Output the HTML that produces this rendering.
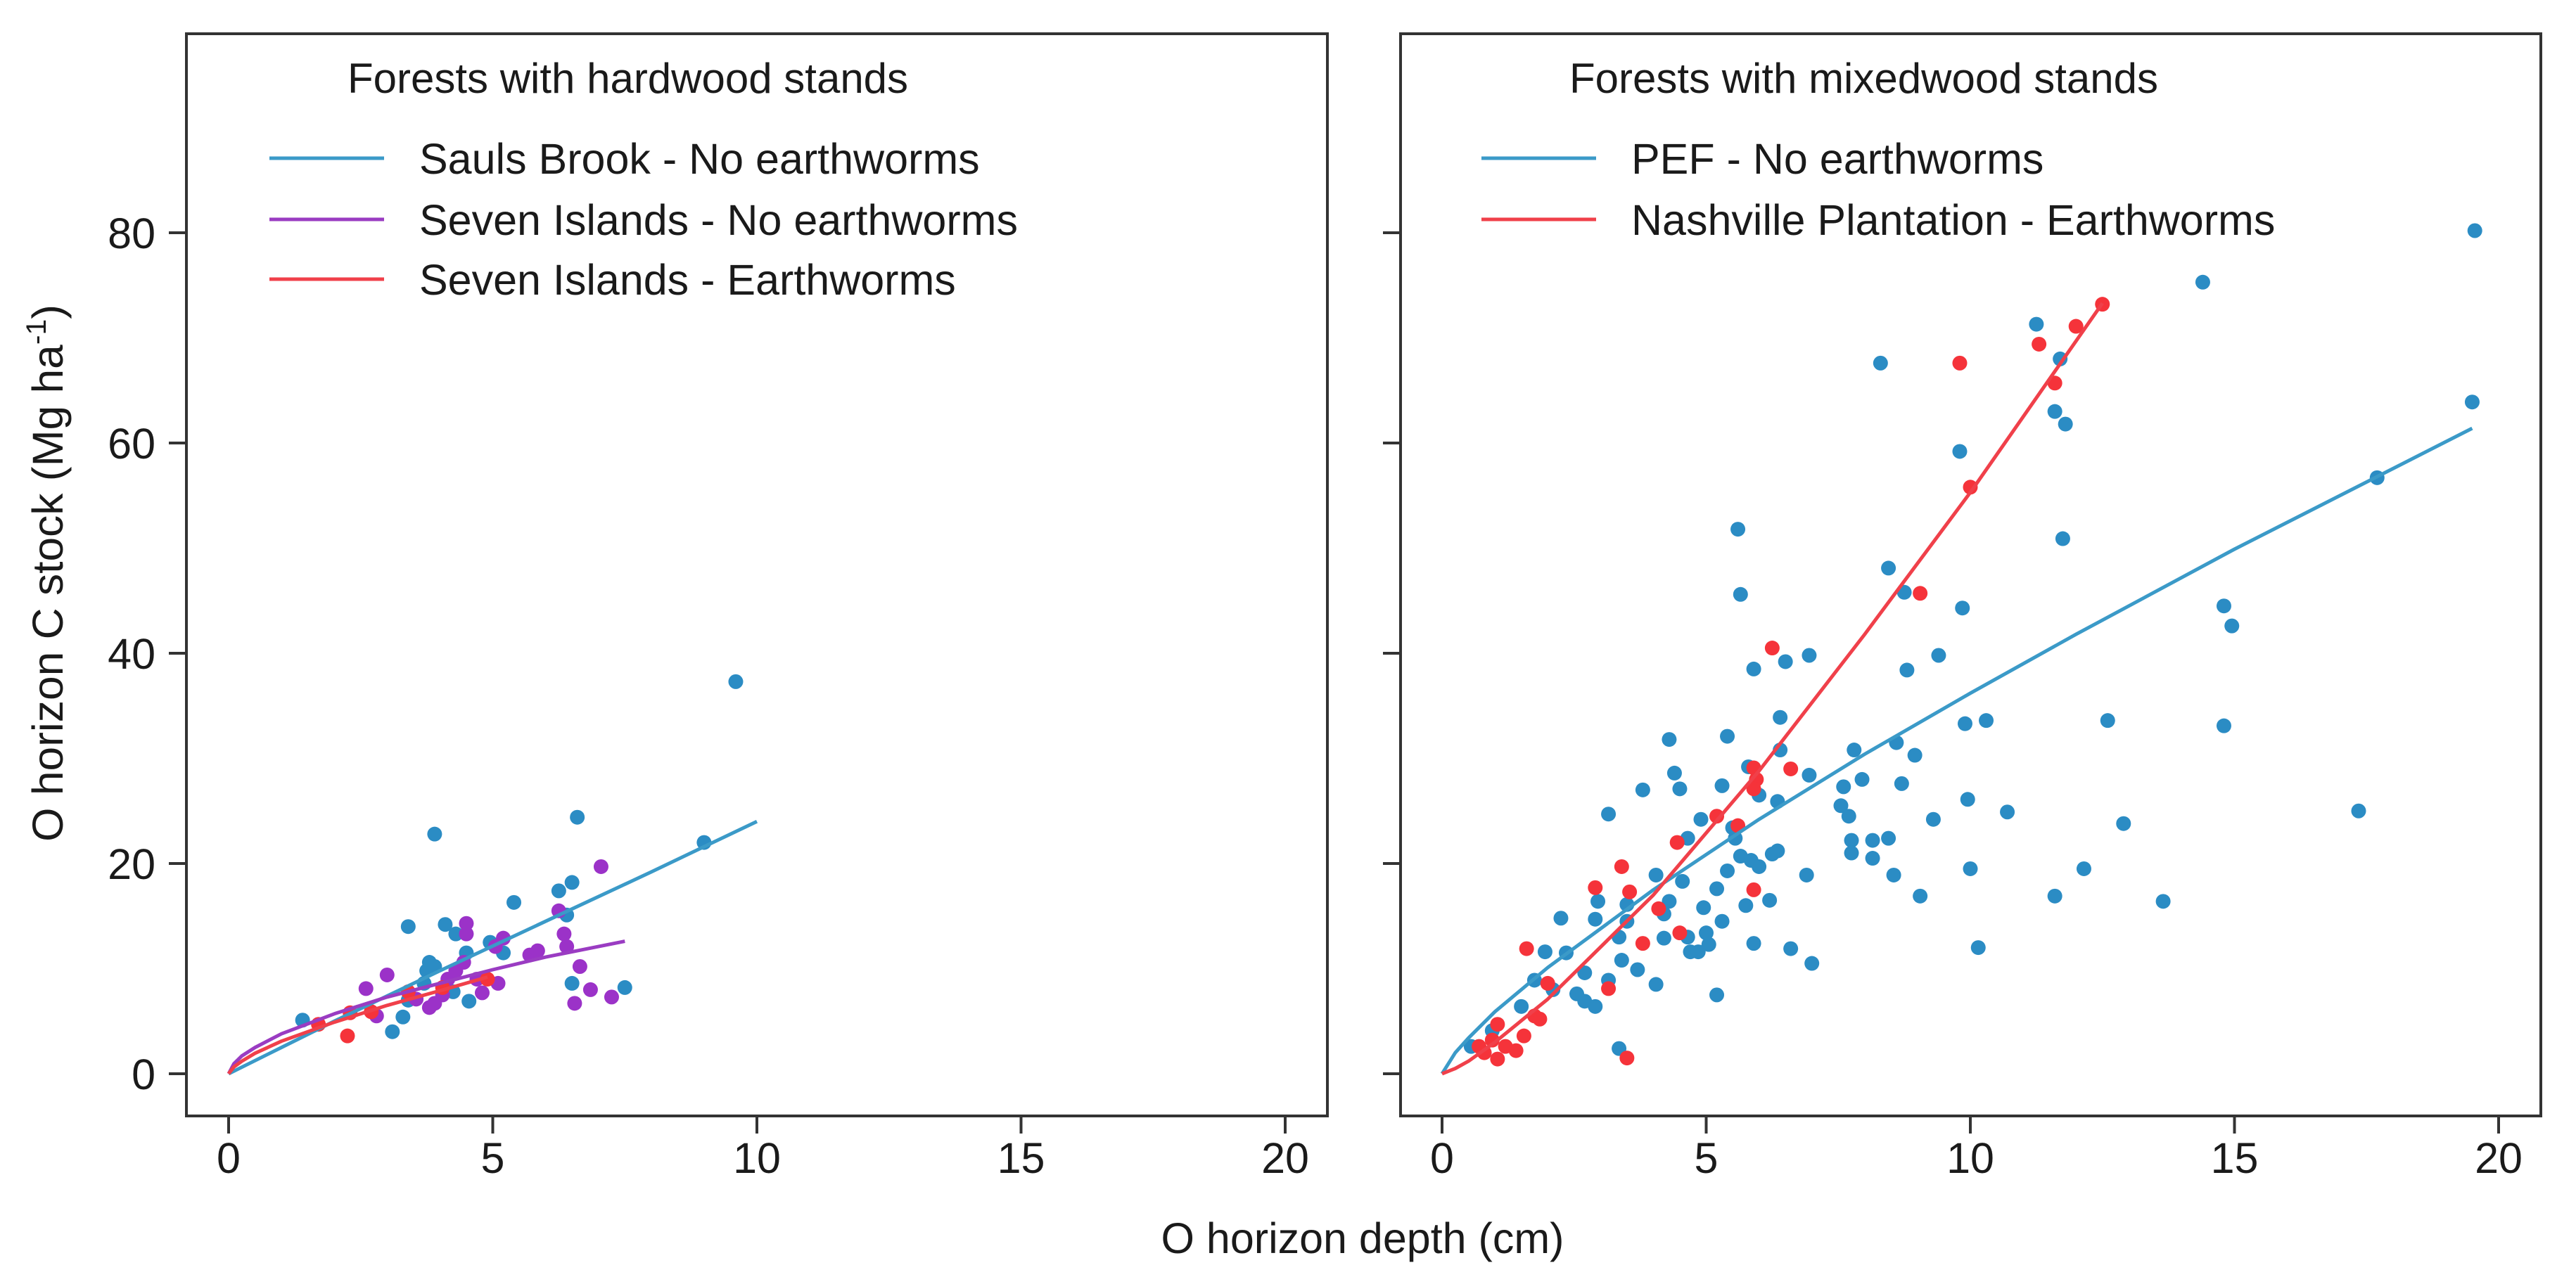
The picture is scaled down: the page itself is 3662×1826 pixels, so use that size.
<!DOCTYPE html>
<html><head><meta charset="utf-8"><style>
html,body{margin:0;padding:0;background:#fff}
svg{display:block}
text{font-family:"Liberation Sans",Arial,sans-serif;fill:#1a1a1a}
</style></head><body>
<svg id="chart" width="3662" height="1826" viewBox="0 0 3662 1826" xmlns="http://www.w3.org/2000/svg">
<g id="g-left"></g>
<g id="g-right"></g>
<text x="1937" y="1782" font-size="61" text-anchor="middle">O horizon depth (cm)</text>
<text transform="translate(89,1197) rotate(-90)" font-size="61" textLength="764" lengthAdjust="spacingAndGlyphs">O horizon C stock (Mg ha<tspan dy="-24" font-size="40">-1</tspan><tspan dy="24">)</tspan></text>
</svg>
<script>
// ---- data ----
const xTicks = [0, 5, 10, 15, 20];
const yTicks = [0, 20, 40, 60, 80];
const yTickLabels = ["0", "20", "40", "60", "80"];

// Left panel points
const saulsX = [1.4,3.9,3.4,3.1,3.3,3.75,3.8,3.9,4.1,4.3,4.5,4.55,4.95,5.2,5.4,6.25,6.5,6.6,6.4,6.5,7.5,9.0,9.6,3.7,4.25,3.4];
const saulsY = [5.1,22.8,14.0,4.0,5.4,9.8,10.6,10.2,14.2,13.3,11.5,6.9,12.5,11.5,16.3,17.4,18.2,24.4,15.1,8.6,8.2,22.0,37.3,8.6,7.8,7.0];
const sevenNoX = [2.6,3.0,2.8,3.55,3.8,3.9,4.05,4.15,4.3,4.45,4.5,4.5,4.7,4.8,5.1,5.05,5.2,5.7,5.85,6.25,6.35,6.4,6.65,6.55,6.85,7.25,7.05];
const sevenNoY = [8.1,9.4,5.5,7.1,6.3,6.7,7.5,9.0,9.8,10.6,14.3,13.3,9.0,7.7,8.6,12.1,12.9,11.3,11.7,15.5,13.3,12.1,10.2,6.7,8.0,7.3,19.7];
const sevenEwX = [2.25,2.3,1.7,2.7,3.4,4.9,4.05];
const sevenEwY = [3.6,5.8,4.7,5.9,7.8,9.0,8.2];
// Left fitted curves
const saulsFitX = [0,1,2,4,6,8,10];
const saulsFitY = [0,2.5,5.0,9.8,14.5,19.2,24];
const sevenNoFitX = [0,0.1,0.25,0.5,1,2,3,4,5,6,7.5];
const sevenNoFitY = [0,0.95,1.7,2.5,3.8,5.7,7.3,8.6,9.9,11.1,12.6];
const sevenEwFitX = [0,0.1,0.25,0.5,1,2,3,4,4.9];
const sevenEwFitY = [0,0.65,1.2,1.95,3.1,4.9,6.5,7.9,9.2];

// Right panel points
const pefX = [19.55,14.4,11.25,11.7,8.3,19.5,11.6,11.8,9.8,17.7,11.75,5.6,8.45,5.65,8.75,9.85,14.8,14.95,9.4,6.95,6.5,5.9,8.8,12.6,14.8,9.9,10.3,4.3,5.4,6.4,7.8,8.6,6.4,8.95,4.4,5.8,6.95,4.5,5.3,3.8,7.6,7.95,8.7,6.35,6.0,17.35,7.55,7.7,3.15,9.95,10.7,9.3,12.9,4.9,4.65,5.5,5.55,7.75,8.15,8.45,7.75,8.15,5.65,5.85,6.0,6.35,6.25,10.0,12.15,4.05,4.55,5.2,5.4,6.9,8.55,6.2,5.75,4.95,5.3,4.3,4.2,9.05,11.6,13.65,3.5,3.5,2.25,2.9,2.95,3.35,4.2,4.65,5.0,5.05,4.7,4.85,5.9,6.6,7.0,10.15,1.95,2.35,3.4,3.7,3.15,4.05,2.1,1.75,2.7,2.55,2.7,2.9,5.2,3.35,1.5,0.95,0.55];
const pefY = [80.2,75.3,71.3,68.0,67.6,63.9,63.0,61.8,59.2,56.7,50.9,51.8,48.1,45.6,45.8,44.3,44.5,42.6,39.8,39.8,39.2,38.5,38.4,33.6,33.1,33.3,33.6,31.8,32.1,33.9,30.8,31.5,30.8,30.3,28.6,29.2,28.4,27.1,27.4,27.0,27.3,28.0,27.6,25.9,26.5,25.0,25.5,24.5,24.7,26.1,24.9,24.2,23.8,24.2,22.4,23.4,22.4,22.2,22.2,22.4,21.0,20.5,20.7,20.3,19.7,21.2,20.9,19.5,19.5,18.9,18.3,17.6,19.3,18.9,18.9,16.5,16.0,15.8,14.5,16.4,15.2,16.9,16.9,16.4,16.1,14.5,14.8,14.7,16.4,13.0,12.9,13.0,13.4,12.3,11.6,11.6,12.4,11.9,10.5,12.0,11.6,11.5,10.8,9.9,8.9,8.5,8.0,8.9,9.6,7.6,6.9,6.4,7.5,2.4,6.4,4.1,2.6];
const nashX = [12.5,12.0,11.3,11.6,9.8,10.0,9.05,6.25,6.6,5.9,5.95,5.9,5.2,5.6,4.45,3.4,2.9,3.55,4.1,4.5,3.8,5.9,1.6,3.15,2.0,1.75,1.85,1.55,1.4,1.05,0.95,0.7,1.05,1.2,0.8,3.5];
const nashY = [73.2,71.1,69.4,65.7,67.6,55.8,45.7,40.5,29.0,29.1,28.0,27.1,24.5,23.6,22.0,19.7,17.7,17.3,15.7,13.4,12.4,17.5,11.9,8.1,8.6,5.5,5.2,3.6,2.2,4.7,3.2,2.6,1.4,2.6,2.0,1.5];
// Right fitted curves
const pefFitX = [0,0.25,0.5,1,2,4,6,8,10,12,15,19.5];
const pefFitY = [0,2.0,3.4,5.9,10.1,17.5,24.2,30.4,36.2,41.8,49.9,61.4];
const nashFitX = [0,0.25,0.5,1,2,4,6,8,10,12.5];
const nashFitY = [0,0.5,1.2,3.0,7.1,17.0,28.8,41.8,55.3,73.3];

// ---- layout ----
const NS = "http://www.w3.org/2000/svg";
const BLUE = "#2b8cc4", PURPLE = "#9b32c8", RED = "#f5333a";
const LBLUE = "#3b9ac8", LPURPLE = "#9a3cc2", LRED = "#f0404a";
const Y0 = 1527, YU = 14.95, XU = 75.1;
function yScale(v){ return Y0 - v*YU; }

function mk(tag, attrs, parent){
  const e = document.createElementNS(NS, tag);
  for (const k in attrs) e.setAttribute(k, attrs[k]);
  parent.appendChild(e);
  return e;
}

function panel(g, box, x0, showYLabels, titleText, titleX, legend, curves, series){
  const xScale = v => x0 + v*XU;
  const frame = mk("rect", {x:box[0], y:box[1], width:box[2]-box[0], height:box[3]-box[1], fill:"none", stroke:"#333", "stroke-width":4}, g);
  
  
  xTicks.forEach(t => {
    const tk = mk("line", {x1:xScale(t), x2:xScale(t), y1:box[3], y2:box[3]+25, stroke:"#333", "stroke-width":4}, g);
    
    
    const lb = mk("text", {x:xScale(t), y:1668, "font-size":61, "text-anchor":"middle"}, g);
    lb.textContent = String(t);
    
    
  });
  yTicks.forEach((t,i) => {
    const tk = mk("line", {x1:box[0]-25, x2:box[0], y1:yScale(t), y2:yScale(t), stroke:"#333", "stroke-width":4}, g);
    
    
    if (showYLabels){
      const lb = mk("text", {x:221, y:yScale(t)+22, "font-size":61, "text-anchor":"end"}, g);
      lb.textContent = yTickLabels[i];
      
      
    }
  });
  const title = mk("text", {x:titleX, y:132, "font-size":60}, g);
  title.textContent = titleText;
  
  
  legend.forEach((L,i) => {
    const ly = [225,312,397][i];
    const ln = mk("line", {x1:L.x1, x2:L.x1+163, y1:ly, y2:ly, stroke:L.c, "stroke-width":5}, g);
    
    
    const tx = mk("text", {x:L.x1+213, y:ly+22, "font-size":61}, g);
    tx.textContent = L.t;
    
    
  });
  series.forEach(S => {
    S.xs.forEach((xv, i) => {
      const c = mk("circle", {cx:xScale(xv), cy:yScale(S.ys[i]), r:10.5, fill:S.c}, g);
      
      
    });
  });
  curves.forEach(C => {
    const d = C.xs.map((xv,i) => (i?"L":"M") + xScale(xv).toFixed(1) + "," + yScale(C.ys[i]).toFixed(1)).join(" ");
    const p = mk("path", {d:d, fill:"none", stroke:C.c, "stroke-width":5, "stroke-linejoin":"round"}, g);
    
    
  });
}

panel(document.getElementById("g-left"), [265,48,1887,1587], 325, true,
  "Forests with hardwood stands", 494,
  [{x1:383,c:LBLUE,t:"Sauls Brook - No earthworms"},
   {x1:383,c:LPURPLE,t:"Seven Islands - No earthworms"},
   {x1:383,c:LRED,t:"Seven Islands - Earthworms"}],
  [{xs:saulsFitX, ys:saulsFitY, c:LBLUE, name:"sauls-brook-fit"},
   {xs:sevenNoFitX, ys:sevenNoFitY, c:LPURPLE, name:"seven-islands-no-earthworms-fit"},
   {xs:sevenEwFitX, ys:sevenEwFitY, c:LRED, name:"seven-islands-earthworms-fit"}],
  [{xs:saulsX, ys:saulsY, c:BLUE, name:"sauls-brook-point"},
   {xs:sevenNoX, ys:sevenNoY, c:PURPLE, name:"seven-islands-no-earthworms-point"},
   {xs:sevenEwX, ys:sevenEwY, c:RED, name:"seven-islands-earthworms-point"}]);

panel(document.getElementById("g-right"), [1991,48,3612,1587], 2050, false,
  "Forests with mixedwood stands", 2231,
  [{x1:2106,c:LBLUE,t:"PEF - No earthworms"},
   {x1:2106,c:LRED,t:"Nashville Plantation - Earthworms"}],
  [{xs:pefFitX, ys:pefFitY, c:LBLUE, name:"pef-fit"},
   {xs:nashFitX, ys:nashFitY, c:LRED, name:"nashville-fit"}],
  [{xs:pefX, ys:pefY, c:BLUE, name:"pef-point"},
   {xs:nashX, ys:nashY, c:RED, name:"nashville-point"}]);
</script>
</body></html>
